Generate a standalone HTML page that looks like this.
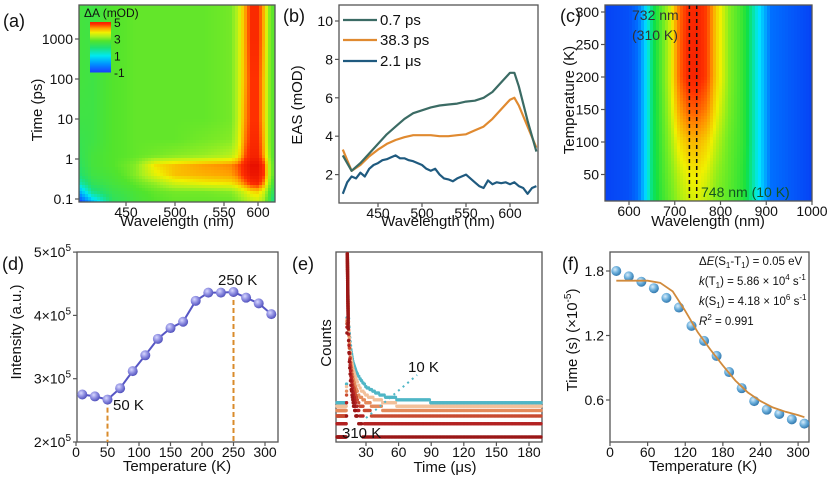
<!DOCTYPE html>
<html><head><meta charset="utf-8"><style>
html,body{margin:0;padding:0;background:#fff;}
svg{display:block;font-family:"Liberation Sans",sans-serif;}
</style></head><body>
<svg id="fig" width="831" height="481" viewBox="0 0 831 481" xmlns="http://www.w3.org/2000/svg">
<defs>
<radialGradient id="gd" cx="0.38" cy="0.35" r="0.7"><stop offset="0" stop-color="#d8d8ff"/><stop offset="0.5" stop-color="#8c8ce0"/><stop offset="1" stop-color="#4a4ab8"/></radialGradient>
<radialGradient id="gf" cx="0.38" cy="0.35" r="0.7"><stop offset="0" stop-color="#d6ecfa"/><stop offset="0.5" stop-color="#6aaedb"/><stop offset="1" stop-color="#2c72a8"/></radialGradient>
</defs>
<rect x="0" y="0" width="831" height="481" fill="#fff"/>
</svg>
<script>
// ---------- DATA ----------
// (a) TA heatmap
const aWl = [415,425,440,460,480,500,530,560,570,580,590,600,610,620,630];
const aTimes = [0.085,0.15,0.25,0.4,0.7,1.2,3,10,100,1000,7000];
const aVals = [
 [-1,0.5,2.2,2.6,2.8,2.9,2.9,2.9,3.0,3.2,3.4,3.5,3.2,2.5,1.5],
 [0.3,1.8,2.4,2.7,2.9,3.0,3.0,3.1,3.3,3.6,3.9,4.0,3.6,2.8,2.0],
 [1.5,2.3,2.6,2.9,3.2,3.6,3.8,3.9,4.1,4.5,4.9,5.0,4.4,3.2,2.4],
 [2.0,2.5,2.7,3.1,3.7,4.1,4.2,4.3,4.5,4.9,5.2,5.2,4.8,3.4,2.6],
 [2.2,2.6,2.8,3.1,3.9,4.1,4.3,4.4,4.6,5.0,5.3,5.3,4.8,3.4,2.6],
 [2.3,2.6,2.8,2.9,3.0,3.1,3.2,3.4,3.7,4.6,5.0,5.0,4.3,3.2,2.6],
 [2.4,2.5,2.8,2.9,2.9,2.9,3.0,3.1,3.5,4.4,4.9,4.9,4.2,3.1,2.7],
 [2.5,2.5,2.8,2.9,2.9,2.9,2.9,3.0,3.4,4.3,4.8,4.8,4.1,3.1,2.7],
 [2.6,2.5,2.8,2.9,2.9,2.9,2.9,3.0,3.4,4.2,4.8,4.8,4.1,3.1,2.7],
 [2.6,2.5,2.8,2.9,2.9,2.9,2.9,3.0,3.4,4.2,4.9,4.9,4.2,3.1,2.7],
 [2.6,2.5,2.8,2.9,2.9,2.9,2.9,3.0,3.4,4.2,4.9,4.9,4.2,3.1,2.7]];
const aXTicks = [450,500,550,600];
const aYTicks = [0.1,1,10,100,1000];
const aCbTicks = [5,3,1,-1];
// (b) EAS spectra
const bWl = [410,420,430,440,450,460,470,480,490,500,510,520,530,540,550,560,570,580,590,600,605,610,620,630];
const b07 = [3.0,2.2,2.6,3.1,3.6,4.1,4.5,4.9,5.2,5.35,5.5,5.6,5.65,5.7,5.8,5.85,6.0,6.3,6.8,7.3,7.3,6.6,4.8,3.2];
const b383 = [3.3,2.2,2.5,2.95,3.3,3.6,3.8,3.95,4.05,4.05,4.05,4.0,4.0,4.05,4.1,4.3,4.5,4.9,5.4,5.9,6.0,5.6,4.5,3.4];
const bUsWl = [410,415,420,425,430,435,440,445,450,455,460,465,470,475,480,485,490,495,500,505,510,515,520,525,530,535,540,545,550,555,560,565,570,575,580,585,590,595,600,605,610,615,620,625,630];
const b21 = [1.0,1.6,1.9,1.8,2.1,1.9,2.3,2.5,2.6,2.75,2.8,2.9,3.0,2.85,2.85,2.75,2.7,2.6,2.5,2.3,2.2,2.3,2.0,1.8,1.75,1.65,1.8,1.9,2.0,1.8,1.6,1.4,1.3,1.7,1.5,1.6,1.55,1.6,1.5,1.6,1.4,1.3,1.0,1.3,1.4];
const bXTicks = [450,500,550,600];
const bYTicks = [2,4,6,8,10];
// (c) PL heatmap
const cWl = [548,600,620,635,650,670,690,710,730,750,770,790,820,850,880,910,1000];
const cT = [10,50,100,150,200,250,310];
const cVals = [
 [0.05,0.08,0.15,0.25,0.38,0.46,0.52,0.58,0.62,0.63,0.6,0.55,0.5,0.45,0.3,0.15,0.05],
 [0.05,0.08,0.15,0.25,0.38,0.47,0.54,0.61,0.65,0.66,0.63,0.57,0.51,0.45,0.3,0.15,0.05],
 [0.05,0.08,0.15,0.25,0.38,0.48,0.57,0.67,0.72,0.73,0.69,0.61,0.52,0.46,0.3,0.15,0.05],
 [0.05,0.08,0.15,0.25,0.38,0.49,0.6,0.76,0.84,0.85,0.8,0.66,0.54,0.46,0.3,0.15,0.05],
 [0.05,0.08,0.15,0.25,0.38,0.5,0.62,0.83,0.93,0.94,0.88,0.7,0.55,0.46,0.3,0.15,0.05],
 [0.05,0.08,0.15,0.25,0.38,0.5,0.62,0.83,0.93,0.94,0.88,0.7,0.55,0.46,0.3,0.15,0.05],
 [0.05,0.08,0.15,0.25,0.38,0.5,0.62,0.82,0.92,0.93,0.88,0.7,0.55,0.46,0.3,0.15,0.05]];
const cXTicks = [600,700,800,900,1000];
const cYTicks = [50,100,150,200,250,300];
const cMarks = [732,748];
// (d) integrated intensity
const dT = [10,30,50,70,90,110,130,150,170,190,210,230,250,270,290,310];
const dI = [2.75,2.72,2.67,2.85,3.12,3.37,3.63,3.80,3.90,4.23,4.36,4.36,4.37,4.28,4.19,4.02];
const dXTicks = [0,50,100,150,200,250,300];
const dYTicks = [2,3,4,5];
const dMarks = [50,250];
// (e) decay traces
const eTimes = [3,12,12.8,13.6,14.5,16,18,21,25,30,40,50,65,80,100,130,160,192];
const eT10 = [6,6,16000,800,250,100,50,30,20,14,10,8,7,7,6,6,6,6];
const eT50 = [5,5,16000,700,200,70,35,20,12,9,7,6,5,5,5,5,5,5];
const eT100 = [4,4,16000,600,150,50,22,12,8,6,5,4,4,4,4,4,4,4];
const eT170 = [3,3,16000,500,120,40,15,8,5,4,3,3,3,3,3,3,3,3];
const eT250 = [2,2,16000,400,90,25,10,5,3,2,2,2,2,2,2,2,2,2];
const eT310 = [1,1,16000,300,60,15,6,3,2,1,1,1,1,1,1,1,1,1];
const eXTicks = [30,60,90,120,150,180];
// (f) lifetimes + fit
const fT = [10,30,50,70,90,110,130,150,170,190,210,230,250,270,290,310];
const fTau = [1.80,1.75,1.70,1.64,1.55,1.46,1.29,1.15,1.01,0.86,0.71,0.59,0.51,0.47,0.42,0.38];
const fFitT = [10,20,40,60,80,100,120,140,160,180,200,220,240,260,280,300,310];
const fFit = [1.71,1.71,1.71,1.71,1.69,1.61,1.43,1.23,1.07,0.92,0.78,0.67,0.59,0.53,0.49,0.46,0.44];
const fXTicks = [0,60,120,180,240,300];
const fYTicks = [0.6,1.2,1.8];

// ---------- HELPERS ----------
const NS="http://www.w3.org/2000/svg";
const svg=document.getElementById('fig');
function mk(tag,attrs,parent){const e=document.createElementNS(NS,tag);for(const k in attrs)e.setAttribute(k,attrs[k]);(parent||svg).appendChild(e);return e;}
function grp(parent){return mk('g',{},parent);}
function pw(knots,vals,x){
  if(x<=knots[0]){return vals[0]+(x-knots[0])*(vals[1]-vals[0])/(knots[1]-knots[0]);}
  for(let i=1;i<knots.length;i++){if(x<=knots[i]){const f=(x-knots[i-1])/(knots[i]-knots[i-1]);return vals[i-1]+f*(vals[i]-vals[i-1]);}}
  const n=knots.length;return vals[n-1]+(x-knots[n-1])*(vals[n-1]-vals[n-2])/(knots[n-1]-knots[n-2]);}
function idx(arr,v){let i=0;while(i<arr.length-2&&v>arr[i+1])i++;let f=(v-arr[i])/(arr[i+1]-arr[i]);f=Math.max(0,Math.min(1,f));return [i,f];}
function bil(cols,rows,vals,cx,ry){const [i,fx]=idx(cols,cx);const [j,fy]=idx(rows,ry);
  const a=vals[j][i]*(1-fx)+vals[j][i+1]*fx;const b=vals[j+1][i]*(1-fx)+vals[j+1][i+1]*fx;return a*(1-fy)+b*fy;}
function hex(h){return [parseInt(h.substr(1,2),16),parseInt(h.substr(3,2),16),parseInt(h.substr(5,2),16)];}
function cmap(stops,v){if(v<=stops[0][0])return 'rgb('+hex(stops[0][1])+')';
  for(let i=1;i<stops.length;i++){if(v<=stops[i][0]){const f=(v-stops[i-1][0])/(stops[i][0]-stops[i-1][0]);const a=hex(stops[i-1][1]),b=hex(stops[i][1]);
   return 'rgb('+a.map((c,k)=>Math.round(c+(b[k]-c)*f)).join(',')+')';}}
  return 'rgb('+hex(stops[stops.length-1][1])+')';}
function txt(x,y,s,size,anchor,parent,extra){const t=mk('text',Object.assign({x:x,y:y,'font-size':size,'text-anchor':anchor||'start',fill:'#111'},extra||{}),parent);t.textContent=s;return t;}
function frame(x0,y0,x1,y1,name){const r=mk('rect',{x:x0,y:y0,width:x1-x0,height:y1-y0,fill:'none',stroke:'#555','stroke-width':1.3});
  
  }
function xtick(g,x,y,label,name){const l=mk('line',{x1:x,x2:x,y1:y,y2:y+4,stroke:'#555','stroke-width':1.2},g);
  
  
  const t=txt(x,y+15,label,14,'middle',g);
  
  }
function ytick(g,x,y,label,name){const l=mk('line',{x1:x-4,x2:x,y1:y,y2:y,stroke:'#555','stroke-width':1.2},g);
  
  
  const t=txt(x-6,y+5,label,14,'end',g);
  
  return t;}
function vtitle(x,y,s,name,size){const t=txt(x,y,s,size||15,'middle',svg,{transform:'rotate(-90 '+x+' '+y+')'});
  
  return t;}
function htitle(x,y,s,name){const t=txt(x,y,s,15,'middle');
  
  return t;}
function plabel(x,y,s,name){const t=txt(x,y,s,18,'start');
  
  }

// ---------- PANEL A ----------
const aKx=[415,450,500,550,600,630], aKp=[79,126,175,224,258,275];
const ax=w=>pw(aKx,aKp,w), axInv=p=>pw(aKp,aKx,p);
const ay=t=>199-40*(Math.log10(t)+1), ayInv=p=>Math.pow(10,(199-p)/40-1);
const aStops=[[-1,'#1a3cff'],[0,'#0090ff'],[1,'#00e8f0'],[2,'#20e070'],[2.8,'#52e42c'],[3.3,'#a8f020'],[3.8,'#f0f000'],[4.3,'#ffa000'],[4.8,'#ff3000'],[5.3,'#e81000']];
const aLogT=aTimes.map(t=>Math.log10(t));
const gA=grp();
for(let px=79;px<275;px+=3){for(let py=5;py<202;py+=3){
  const v=bil(aWl,aLogT,aVals,axInv(px+1.5),Math.log10(ayInv(py+1.5)));
  const r=mk('rect',{x:px,y:py,width:Math.min(3.6,275-px),height:Math.min(3.6,202-py),fill:cmap(aStops,v)},gA);
  
  }}
const gCb=grp();
for(let py=22;py<72;py+=1){const v=5-(py-22)/50*6;const r=mk('rect',{x:90,y:py,width:21,height:1.5,fill:cmap(aStops,v)},gCb);
  
  }
aCbTicks.forEach(v=>{const t=txt(114,22+(5-v)/6*50+5,String(v),12,'start',gCb);
  
  });
const cbT=txt(84,17,'ΔA (mOD)',12,'start');
frame(79,5,275,202,'panel-a-frame');
const gAx=grp();
aXTicks.forEach(w=>xtick(gAx,ax(w),202,String(w),'a-x'));
aYTicks.forEach(t=>ytick(gAx,79,ay(t),String(t),'a-y'));
htitle(177,226,'Wavelength (nm)','a-x-title');
vtitle(42,110,'Time (ps)','a-y-title');
plabel(3,27,'(a)','panel-a-label');

// ---------- PANEL B ----------
const bx=w=>378+(w-450)*0.88, by=v=>213-19.2*v;
frame(339,5,538,203,'panel-b-frame');
const gBx=grp();
bXTicks.forEach(w=>xtick(gBx,bx(w),203,String(w),'b-x'));
bYTicks.forEach(v=>ytick(gBx,339,by(v),String(v),'b-y'));
function bline(xs,ys,col,name){const d=xs.map((w,i)=>(i?'L':'M')+bx(w).toFixed(1)+','+by(ys[i]).toFixed(1)).join('');
  const p=mk('path',{d:d,fill:'none',stroke:col,'stroke-width':2.2,'stroke-linejoin':'round'});
  
  }
bline(bUsWl,b21,'#1f5a7f','series-2-1-us');
bline(bWl,b383,'#e08a30','series-38-3-ps');
bline(bWl,b07,'#3b6b64','series-0-7-ps');
[['0.7 ps','#3b6b64',20],['38.3 ps','#e08a30',40],['2.1 μs','#1f5a7f',61]].forEach(L=>{
  const l=mk('line',{x1:343,x2:377,y1:L[2],y2:L[2],stroke:L[1],'stroke-width':2.2});
  
  
  const t=txt(380,L[2]+5,L[0],15,'start');
  
  });
htitle(438,226,'Wavelength (nm)','b-x-title');
vtitle(302,105,'EAS (mOD)','b-y-title');
plabel(283,22,'(b)','panel-b-label');

// ---------- PANEL C ----------
const cx=w=>629+(w-600)*0.4575, cxInv=p=>600+(p-629)/0.4575;
const cy=T=>207-0.65*T, cyInv=p=>(207-p)/0.65;
const cStops=[[0,'#0a2cf0'],[0.15,'#0070ff'],[0.28,'#00e8ff'],[0.42,'#10e040'],[0.55,'#80ee20'],[0.65,'#f0f000'],[0.78,'#ff9000'],[0.9,'#ff3000'],[1,'#e81000']];
const gC=grp();
for(let px=605;px<812;px+=3){for(let py=5;py<201;py+=3){
  const v=bil(cWl,cT,cVals,cxInv(px+1.5),cyInv(py+1.5));
  const r=mk('rect',{x:px,y:py,width:Math.min(3.6,812-px),height:Math.min(3.6,201-py),fill:cmap(cStops,v)},gC);
  
  }}
cMarks.forEach(w=>{const l=mk('line',{x1:cx(w),x2:cx(w),y1:5,y2:201,stroke:'#111','stroke-width':1.5,'stroke-dasharray':'4,3'});
  
  });
[[632,20,'732 nm','#333'],[632,40,'(310 K)','#333'],[701,197,'748 nm (10 K)','#115522']].forEach(a=>{const t=txt(a[0],a[1],a[2],14,'start',svg,{fill:a[3]});
  
  });
frame(605,5,812,201,'panel-c-frame');
const gCx=grp();
cXTicks.forEach(w=>xtick(gCx,cx(w),201,String(w),'c-x'));
cYTicks.forEach(T=>ytick(gCx,605,cy(T),String(T),'c-y'));
htitle(708,226,'Wavelength (nm)','c-x-title');
vtitle(574,100,'Temperature (K)','c-y-title');
plabel(560,22,'(c)','panel-c-label');

// ---------- PANEL D ----------
const dx=T=>76+T*0.63, dy=v=>442-(v-2)*63.3;
frame(77,252,278,442,'panel-d-frame');
const gDx=grp();
dXTicks.forEach(T=>xtick(gDx,dx(T),442,String(T),'d-x'));
dYTicks.forEach(v=>{const t=ytick(gDx,77,dy(v),'','d-y');t.textContent='';
  const a=mk('tspan',{},t);a.textContent=v+'×10';const b=mk('tspan',{dy:-6,'font-size':10},t);b.textContent='5';});
dMarks.forEach(T=>{const v=dI[dT.indexOf(T)];const l=mk('line',{x1:dx(T),x2:dx(T),y1:dy(v),y2:442,stroke:'#d98b2b','stroke-width':2,'stroke-dasharray':'5,3'});
  
  });
const dl=mk('path',{d:dT.map((T,i)=>(i?'L':'M')+dx(T).toFixed(1)+','+dy(dI[i]).toFixed(1)).join(''),fill:'none',stroke:'#5656c4','stroke-width':2});


dT.forEach((T,i)=>{const c=mk('circle',{cx:dx(T),cy:dy(dI[i]),r:5,fill:'url(#gd)'});
  
  });
[[113,410,'50 K'],[218,285,'250 K']].forEach(a=>{const t=txt(a[0],a[1],a[2],15,'start');
  
  });
htitle(177,471,'Temperature (K)','d-x-title');
vtitle(21,332,'Intensity (a.u.)','d-y-title');
plabel(2,270,'(d)','panel-d-label');

// ---------- PANEL E ----------
const ex=t=>333.4+t*1.0867, ey=c=>437-44*Math.log10(c);
frame(336,252,542,442,'panel-e-frame');
const gEx=grp();
eXTicks.forEach(t=>xtick(gEx,ex(t),442,String(t),'e-x'));
const traces=[[eT10,'#4fb6c6','trace-10k'],[eT50,'#f2c09a','trace-50k'],[eT100,'#e48a5a','trace-100k'],[eT170,'#c84a30','trace-170k'],[eT250,'#b32222','trace-250k'],[eT310,'#9a1616','trace-310k']];
traces.forEach(tr=>{const g=grp();
  const lc=tr[0].map(c=>Math.log10(c));
  let t=eTimes[0];
  while(t<=eTimes[eTimes.length-1]){
    let c=Math.pow(10,pw(eTimes,lc,t));
    if(c<30)c=Math.max(1,Math.round(c));
    const X=ex(t);
    if(X>=337&&X<=541){const d=mk('circle',{cx:X,cy:Math.max(254,ey(c)),r:1.7,fill:tr[1]},g);
      
      }
    t+=(t>=12.7&&t<13.6)?0.02:(t<22?0.35:1.3);
  }});
const arr=mk('line',{x1:ex(30),y1:418,x2:ex(77),y2:375,stroke:'#4fb6c6','stroke-width':2,'stroke-dasharray':'2,4'});


[[408,372,'10 K'],[342,438,'310 K']].forEach(a=>{const t=txt(a[0],a[1],a[2],15,'start');
  
  });
htitle(445,472,'Time (μs)','e-x-title');
vtitle(331,343,'Counts','e-y-title');
plabel(292,270,'(e)','panel-e-label');

// ---------- PANEL F ----------
const fx=T=>610+T*0.627, fy=v=>271+(1.8-v)*107.5;
frame(610,252,809,442,'panel-f-frame');
const gFx=grp();
fXTicks.forEach(T=>xtick(gFx,fx(T),442,String(T),'f-x'));
fYTicks.forEach(v=>ytick(gFx,610,fy(v),v.toFixed(1),'f-y'));
fT.forEach((T,i)=>{const c=mk('circle',{cx:fx(T),cy:fy(fTau[i]),r:5,fill:'url(#gf)'});
  
  });
const fl=mk('path',{d:fFitT.map((T,i)=>(i?'L':'M')+fx(T).toFixed(1)+','+fy(fFit[i]).toFixed(1)).join(''),fill:'none',stroke:'#d08a3c','stroke-width':1.8});


const fa=[[265,['Δ',['E','i'],'(S',['1','sub'],'-T',['1','sub'],') = 0.05 eV']],
  [285,[['k','i'],'(T',['1','sub'],') = 5.86 × 10',['4','sup'],' s',['-1','sup']]],
  [305,[['k','i'],'(S',['1','sub'],') = 4.18 × 10',['6','sup'],' s',['-1','sup']]],
  [325,[['R','i'],['2','sup'],' = 0.991']]];
fa.forEach(a=>{const t=txt(699,a[0],'',11.5,'start');
  
  
  let shift=0;
  a[1].forEach(p=>{if(typeof p==='string'){const s=mk('tspan',{dy:-shift},t);s.textContent=p;shift=0;}
    else{let dy=0,attrs={};if(p[1]==='i')attrs['font-style']='italic';
      if(p[1]==='sub'){dy=3;attrs['font-size']=8;} if(p[1]==='sup'){dy=-5;attrs['font-size']=8;}
      attrs.dy=dy-shift;const s=mk('tspan',attrs,t);s.textContent=p[0];shift=dy;}});});
htitle(703,471,'Temperature (K)','f-x-title');
const fyT=vtitle(577,340,'','f-y-title');
(function(){const a=mk('tspan',{},fyT);a.textContent='Time (s) (×10';const b=mk('tspan',{dy:-6,'font-size':10},fyT);b.textContent='-5';const c=mk('tspan',{dy:6},fyT);c.textContent=')';})();
plabel(562,270,'(f)','panel-f-label');
</script>
</body></html>
